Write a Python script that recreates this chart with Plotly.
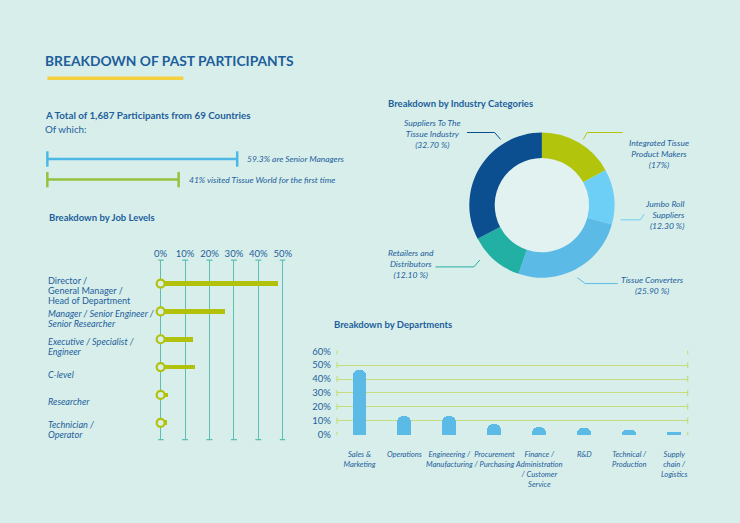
import plotly.graph_objects as go

# ---------------- data ----------------
title_text = "BREAKDOWN OF PAST PARTICIPANTS"
summary_title = "A Total of 1,687 Participants from 69 Countries"
summary_sub = "Of which:"

stat_labels = ["59.3% are Senior Managers", "41% visited Tissue World for the first time"]
stat_values = [59.3, 41]

job_title = "Breakdown by Job Levels"
job_levels = [
    "Director /<br>General Manager /<br>Head of Department",
    "Manager / Senior Engineer /<br>Senior Researcher",
    "Executive / Specialist /<br>Engineer",
    "C-level",
    "Researcher",
    "Technician /<br>Operator",
]
job_values = [48, 26.5, 13.5, 14, 3, 2.5]
job_ticks = [0, 10, 20, 30, 40, 50]
job_tick_labels = ["0%", "10%", "20%", "30%", "40%", "50%"]

industry_title = "Breakdown by Industry Categories"
industry_labels = [
    "Integrated Tissue<br>Product Makers",
    "Jumbo Roll<br>Suppliers",
    "Tissue Converters",
    "Retailers and<br>Distributors",
    "Suppliers To The<br>Tissue Industry",
]
industry_values = [17, 12.3, 25.9, 12.1, 32.7]
industry_pct = ["(17%)", "(12.30 %)", "(25.90 %)", "(12.10 %)", "(32.70 %)"]

dept_title = "Breakdown by Departments"
departments = [
    "Sales &<br>Marketing",
    "Operations",
    "Engineering /<br>Manufacturing",
    "Procurement<br>/ Purchasing",
    "Finance /<br>Administration<br>/ Customer<br>Service",
    "R&D",
    "Technical /<br>Production",
    "Supply<br>chain /<br>Logistics",
]
dept_values = [46.5, 14, 14, 8, 6, 5, 4, 2]
dept_ticks = [0, 10, 20, 30, 40, 50, 60]
dept_tick_labels = ["0%", "10%", "20%", "30%", "40%", "50%", "60%"]

# ---------------- styling ----------------
W, H = 740, 523
def px(x):
    return x / W
def py(y):
    return 1 - y / H

BG = "#d8eeeb"
HOLE = "#e1f2f1"
NAVY = "#1d5e9b"
YELLOW = "#f4d03f"
LIME = "#b2c20c"
STAT_COLORS = ["#4cb8e6", "#94c23e"]
TEAL_GRID = "#5cbfb3"
DEPT_GRID = "#c7dc7d"
DEPT_BAR = "#5cbbe6"
PIE_COLORS = ["#b3c40c", "#6dcff6", "#5cbbe6", "#23b0a4", "#0b4f90"]
FONT = "Lato, 'Open Sans', sans-serif"

fig = go.Figure()

# ---- summary stat bars ----
for lab, val, col in zip(stat_labels, stat_values, STAT_COLORS):
    fig.add_trace(go.Scatter(
        x=[0, val], y=[lab, lab], mode="lines+markers",
        line=dict(color=col, width=2.5),
        marker=dict(symbol="line-ns", size=11, line=dict(width=2.5, color=col), color=col),
        cliponaxis=False, hoverinfo="skip", showlegend=False,
        xaxis="x", yaxis="y",
    ))

# ---- job level bars ----
fig.add_trace(go.Bar(
    x=job_values, y=job_levels, orientation="h", width=0.17,
    marker=dict(color=LIME, line=dict(width=0)),
    xaxis="x2", yaxis="y2", showlegend=False, hoverinfo="skip",
))
fig.add_trace(go.Scatter(
    x=[0] * len(job_levels), y=job_levels, mode="markers",
    marker=dict(symbol="circle", size=8, color=BG, line=dict(color=LIME, width=2.2)),
    cliponaxis=False, xaxis="x2", yaxis="y2", showlegend=False, hoverinfo="skip",
))

# ---- department bars ----
fig.add_trace(go.Bar(
    x=departments, y=dept_values, width=0.31,
    marker=dict(color=DEPT_BAR, line=dict(width=0)),
    xaxis="x3", yaxis="y3", showlegend=False, hoverinfo="skip",
))

# ---- donut ----
cx, cy, r = 546, 204, 74
fig.add_trace(go.Pie(
    values=industry_values, labels=[l.replace("<br>", " ") for l in industry_labels],
    sort=False, direction="clockwise", rotation=0, hole=0.65,
    marker=dict(colors=PIE_COLORS, line=dict(width=0)),
    textinfo="none", showlegend=False, hoverinfo="skip",
    domain=dict(x=[px(cx - r), px(cx + r)], y=[py(cy + r), py(cy - r)]),
))

annotations = []
shapes = []

def txt(x, y, text, size=9, bold=False, italic=False, xanchor="left", align="left", color=NAVY, family=FONT):
    annotations.append(dict(
        x=px(x), y=py(y), xref="paper", yref="paper", text=text, showarrow=False,
        xanchor=xanchor, yanchor="middle", align=align,
        font=dict(family=family, size=size, color=color,
                  weight="bold" if bold else "normal",
                  style="italic" if italic else "normal"),
    ))

# main title & underline
txt(40, 57, title_text, size=13.8, bold=True)
shapes.append(dict(type="rect", xref="paper", yref="paper", x0=px(44), x1=px(182),
                   y0=py(76.5), y1=py(73), fillcolor=YELLOW, line=dict(width=0)))

# summary texts
txt(40, 112, summary_title, size=9.8, bold=True)
txt(40, 126, summary_sub, size=9.8)
for lab, val in zip(stat_labels, stat_values):
    annotations.append(dict(x=val, y=lab, xref="x", yref="y", text=lab, showarrow=False,
                            xanchor="left", yanchor="middle", xshift=8,
                            font=dict(family=FONT, size=8.5, color=NAVY, style="italic")))

# section titles
txt(44, 217, job_title, size=9.5, bold=True)
txt(388, 100, industry_title, size=9.5, bold=True)
txt(333, 326, dept_title, size=9.5, bold=True)

# job level labels (one annotation per text line, 10 px line spacing)
LINE = 10
for i, lab in enumerate(job_levels):
    lines = lab.split("<br>")
    n = len(lines)
    for k, ln in enumerate(lines):
        off = 7 + (k - (n - 1) / 2) * LINE
        annotations.append(dict(x=px(43), y=lab, xref="paper", yref="y2", text=ln, showarrow=False,
                                xanchor="left", yanchor="middle", align="left", yshift=-off,
                                font=dict(family=FONT, size=9.1, color=NAVY,
                                          style="normal" if i == 0 else "italic")))

# job grid end caps
for t in job_ticks:
    for yy in (260, 443):
        shapes.append(dict(type="line", xref="x2", yref="paper", xsizemode="pixel", xanchor=t,
                           x0=-3, x1=3, y0=py(yy), y1=py(yy), line=dict(color=TEAL_GRID, width=1.3)))

# dept grid end caps
for t in dept_ticks:
    for xx in (338, 694):
        shapes.append(dict(type="line", xref="paper", yref="y3", ysizemode="pixel", yanchor=t,
                           x0=px(xx), x1=px(xx), y0=-3, y1=3, line=dict(color=DEPT_GRID, width=1.2)))

# donut hole
hr = 48
shapes.append(dict(type="circle", xref="paper", yref="paper", layer="below",
                   x0=px(cx - hr), x1=px(cx + hr), y0=py(cy + hr), y1=py(cy - hr),
                   fillcolor=HOLE, line=dict(width=0)))

# donut labels and leader lines (styling positions)
pie_label_pos = [(665, 152, "center"), (693, 214, "right"), (658, 286, "center"),
                 (413, 264, "center"), (435, 132, "center")]
pie_leaders = [
    [(588, 137), (592, 130), (628, 130)],
    [(626, 219), (646, 219), (650, 213)],
    [(582, 278), (590, 284), (623, 284)],
    [(483, 260), (477, 267), (438, 267)],
    [(470, 130), (498, 130), (504, 137)],
]
for lab, pct, (lx, ly, al), pts, col in zip(industry_labels, industry_pct, pie_label_pos, pie_leaders, PIE_COLORS):
    xa = "right" if al == "right" else "center"
    txt(lx, ly, lab + "<br>" + pct, size=8.5, italic=True, xanchor=xa, align=al)
    path = "M " + " L ".join(f"{px(a)},{py(b)}" for a, b in pts)
    shapes.append(dict(type="path", xref="paper", yref="paper", path=path,
                       line=dict(color=col, width=1)))

# ---------------- layout ----------------
j_px_per = 2.47
j_left, j_right = 159 - j_px_per, 283 + j_px_per
dept_px_per = 85 / 60

fig.update_layout(
    width=W, height=H, margin=dict(l=0, r=0, t=0, b=0),
    paper_bgcolor=BG, plot_bgcolor="rgba(0,0,0,0)",
    barcornerradius=7, bargap=0,
    annotations=annotations, shapes=shapes,
    xaxis=dict(domain=[px(44), px(369)], range=[0, 100], visible=False, fixedrange=True),
    yaxis=dict(domain=[py(188.5), py(146.5)], range=[1.5, -0.5], type="category",
               categoryorder="array", categoryarray=stat_labels, visible=False),
    xaxis2=dict(domain=[px(j_left), px(j_right)], range=[-1, 51], side="top", anchor="y2",
                tickvals=job_ticks, ticktext=job_tick_labels, showgrid=True, gridcolor=TEAL_GRID,
                gridwidth=1.3, zeroline=False, showline=False, ticks="", ticklabelstandoff=0,
                tickfont=dict(family=FONT, size=9.5, color=NAVY)),
    yaxis2=dict(domain=[py(443), py(260)], type="category", categoryorder="array",
                categoryarray=job_levels, range=[5.6, -0.845], anchor="x2",
                showticklabels=False, showgrid=False, zeroline=False, showline=False, ticks=""),
    xaxis3=dict(domain=[px(338), px(694)], range=[-0.5, 7.3], anchor="y3", type="category",
                showgrid=False, zeroline=False, showline=False, ticks="", tickangle=0,
                ticklabelstandoff=13,
                tickfont=dict(family=FONT, size=7.6, color=NAVY, style="italic")),
    yaxis3=dict(domain=[py(438 + 0.5 * dept_px_per), py(353 - 0.5 * dept_px_per)],
                range=[-0.5, 60.5], anchor="x3", tickvals=dept_ticks, ticktext=dept_tick_labels,
                showgrid=True, gridcolor=DEPT_GRID, gridwidth=1.2, zeroline=False,
                showline=False, ticks="", ticklabelstandoff=5,
                tickfont=dict(family=FONT, size=9.5, color=NAVY)),
)

fig.write_html(
    "out.html",
    config={"displayModeBar": False},
    post_script="document.body.style.margin='0';document.body.style.overflow='hidden';",
)
